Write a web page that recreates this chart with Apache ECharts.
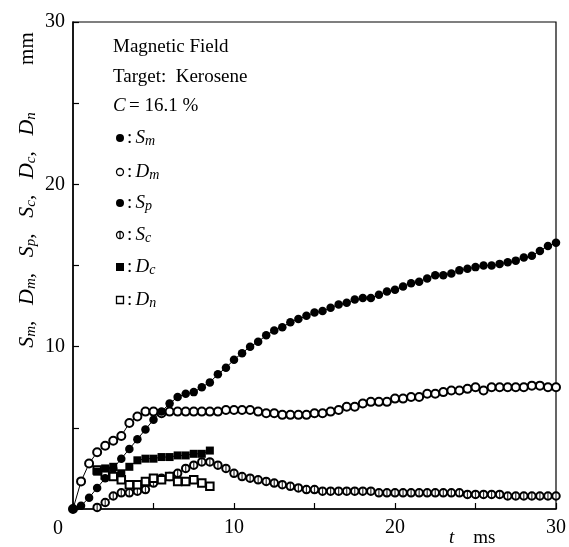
<!DOCTYPE html>
<html>
<head>
<meta charset="utf-8">
<script src="https://cdn.jsdelivr.net/npm/echarts@6/dist/echarts.min.js"></script>
<style>
  html, body { margin: 0; padding: 0; background: #fff; }
  #myChart { width: 569px; height: 547px; }
</style>
</head>
<body>
<div id="myChart"></div>
<script>
// time axis, ms
const tMain = [0, 0.5, 1, 1.5, 2, 2.5, 3, 3.5, 4, 4.5, 5, 5.5, 6, 6.5, 7, 7.5, 8, 8.5, 9, 9.5,
  10, 10.5, 11, 11.5, 12, 12.5, 13, 13.5, 14, 14.5, 15, 15.5, 16, 16.5, 17, 17.5, 18, 18.5, 19, 19.5,
  20, 20.5, 21, 21.5, 22, 22.5, 23, 23.5, 24, 24.5, 25, 25.5, 26, 26.5, 27, 27.5, 28, 28.5, 29, 29.5, 30]
const tSc = [1.5, 2, 2.5, 3, 3.5, 4, 4.5, 5, 5.5, 6, 6.5, 7, 7.5, 8, 8.5, 9, 9.5,
  10, 10.5, 11, 11.5, 12, 12.5, 13, 13.5, 14, 14.5, 15, 15.5, 16, 16.5, 17, 17.5, 18, 18.5, 19, 19.5,
  20, 20.5, 21, 21.5, 22, 22.5, 23, 23.5, 24, 24.5, 25, 25.5, 26, 26.5, 27, 27.5, 28, 28.5, 29, 29.5, 30]
const tShort = [1.5, 2, 2.5, 3, 3.5, 4, 4.5, 5, 5.5, 6, 6.5, 7, 7.5, 8, 8.5]

// mm
const Sm = [0, 0.2, 0.7, 1.3, 1.9, 2.5, 3.1, 3.7, 4.3, 4.9, 5.5, 6.0, 6.5, 6.9, 7.1, 7.2, 7.5, 7.8, 8.3, 8.7,
  9.2, 9.6, 10.0, 10.3, 10.7, 11.0, 11.2, 11.5, 11.7, 11.9, 12.1, 12.2, 12.4, 12.6, 12.7, 12.9, 13.0, 13.0, 13.2, 13.4,
  13.5, 13.7, 13.9, 14.0, 14.2, 14.4, 14.4, 14.5, 14.7, 14.8, 14.9, 15.0, 15.0, 15.1, 15.2, 15.3, 15.5, 15.6, 15.9, 16.2, 16.4]
const Dm = [0, 1.7, 2.8, 3.5, 3.9, 4.2, 4.5, 5.3, 5.7, 6.0, 6.0, 5.9, 6.0, 6.0, 6.0, 6.0, 6.0, 6.0, 6.0, 6.1,
  6.1, 6.1, 6.1, 6.0, 5.9, 5.9, 5.8, 5.8, 5.8, 5.8, 5.9, 5.9, 6.0, 6.1, 6.3, 6.3, 6.5, 6.6, 6.6, 6.6,
  6.8, 6.8, 6.9, 6.9, 7.1, 7.1, 7.2, 7.3, 7.3, 7.4, 7.5, 7.3, 7.5, 7.5, 7.5, 7.5, 7.5, 7.6, 7.6, 7.5, 7.5]
const Sc = [0.1, 0.4, 0.8, 1.0, 1.0, 1.1, 1.2, 1.6, 1.9, 2.0, 2.2, 2.5, 2.7, 2.9, 2.9, 2.7, 2.5,
  2.2, 2.0, 1.9, 1.8, 1.7, 1.6, 1.5, 1.4, 1.3, 1.2, 1.2, 1.1, 1.1, 1.1, 1.1, 1.1, 1.1, 1.1, 1.0, 1.0,
  1.0, 1.0, 1.0, 1.0, 1.0, 1.0, 1.0, 1.0, 1.0, 0.9, 0.9, 0.9, 0.9, 0.9, 0.8, 0.8, 0.8, 0.8, 0.8, 0.8, 0.8]
const Dc = [2.3, 2.5, 2.6, 2.2, 2.6, 3.0, 3.1, 3.1, 3.2, 3.2, 3.3, 3.3, 3.4, 3.4, 3.6]
const Dn = [2.4, 2.1, 2.0, 1.8, 1.5, 1.5, 1.7, 1.9, 1.8, 2.0, 1.7, 1.7, 1.8, 1.6, 1.4]

const xTicks = [10, 20, 30]
const yTicks = [10, 20, 30]

const serif = 'Liberation Serif'
const zip = (ts, vs) => ts.map((t, i) => [t, vs[i]])

const rich = {
  r: { fontFamily: serif, fontSize: 19, color: '#000' },
  i: { fontFamily: serif, fontStyle: 'italic', fontSize: 19, color: '#000' },
  s: { fontFamily: serif, fontStyle: 'italic', fontSize: 14, color: '#000', padding: [7, 0, 0, 0] }
}
const richY = {
  r: { fontFamily: serif, fontSize: 21, color: '#000' },
  i: { fontFamily: serif, fontStyle: 'italic', fontSize: 22, color: '#000' },
  s: { fontFamily: serif, fontStyle: 'italic', fontSize: 15, color: '#000', padding: [8, 0, 0, 0] }
}

const myChart = echarts.init(document.getElementById('myChart'))

const axisCommon = {
  type: 'value',
  min: 0,
  max: 30,
  interval: 5,
  axisLine: { lineStyle: { color: '#000', width: 1.5 } },
  axisTick: { inside: true, length: 6, lineStyle: { color: '#000', width: 1.2 } },
  splitLine: { show: false },
  axisLabel: {
    color: '#000',
    fontFamily: serif,
    fontSize: 20,
    margin: 9,
    formatter: v => (xTicks.indexOf(v) >= 0 ? String(v) : '')
  }
}

const lineStyle = { color: '#000', width: 1 }

// legend block drawn as text
const legendRows = [
  { y: 138, sym: 'fill', label: 'm', L: 'S' },
  { y: 172, sym: 'open', label: 'm', L: 'D' },
  { y: 203, sym: 'fill', label: 'p', L: 'S' },
  { y: 235, sym: 'bar', label: 'c', L: 'S' },
  { y: 267, sym: 'sq', label: 'c', L: 'D' },
  { y: 300, sym: 'osq', label: 'n', L: 'D' }
]
const graphics = [
  { type: 'text', x: 113, y: 47, style: { text: 'Magnetic Field', font: '19px ' + serif, fill: '#000', verticalAlign: 'middle' } },
  { type: 'text', x: 113, y: 77, style: { text: 'Target:  Kerosene', font: '19px ' + serif, fill: '#000', verticalAlign: 'middle' } },
  { type: 'text', x: 113, y: 106, style: { text: '{i|C} {r|= 16.1 %}', rich: rich, verticalAlign: 'middle' } },
  { type: 'text', x: 58, y: 529, style: { text: '0', font: '20px ' + serif, fill: '#000', align: 'center', verticalAlign: 'middle' } },
  { type: 'text', x: 449, y: 538, style: { text: '{i|t}{r|    ms}', rich: rich, verticalAlign: 'middle' } },
  {
    type: 'text', x: 27, y: 190, rotation: Math.PI / 2,
    style: {
      text: '{i|S}{s|m}{r|,   }{i|D}{s|m}{r|,   }{i|S}{s|p}{r|,   }{i|S}{s|c}{r|,   }{i|D}{s|c}{r|,   }{i|D}{s|n}{r|         mm}',
      rich: richY, align: 'center', verticalAlign: 'middle'
    }
  }
]
legendRows.forEach(row => {
  const cx = 120
  if (row.sym === 'fill') {
    graphics.push({ type: 'circle', shape: { cx: cx, cy: row.y, r: 4 }, style: { fill: '#000' } })
  } else if (row.sym === 'open') {
    graphics.push({ type: 'circle', shape: { cx: cx, cy: row.y, r: 3.5 }, style: { fill: '#fff', stroke: '#000', lineWidth: 1.3 } })
  } else if (row.sym === 'bar') {
    graphics.push({ type: 'circle', shape: { cx: cx, cy: row.y, r: 3.5 }, style: { fill: '#fff', stroke: '#000', lineWidth: 1.3 } })
    graphics.push({ type: 'line', shape: { x1: cx, y1: row.y - 3.5, x2: cx, y2: row.y + 3.5 }, style: { stroke: '#000', lineWidth: 1.2 } })
  } else if (row.sym === 'sq') {
    graphics.push({ type: 'rect', shape: { x: cx - 4, y: row.y - 4, width: 8, height: 8 }, style: { fill: '#000' } })
  } else {
    graphics.push({ type: 'rect', shape: { x: cx - 3.5, y: row.y - 3.5, width: 7, height: 7 }, style: { fill: '#fff', stroke: '#000', lineWidth: 1.3 } })
  }
  graphics.push({
    type: 'text', x: 127, y: row.y,
    style: { text: '{r|:} {i|' + row.L + '}{s|' + row.label + '}', rich: rich, verticalAlign: 'middle' }
  })
})

myChart.setOption({
  animation: false,
  backgroundColor: '#fff',
  grid: { left: 73, right: 12, top: 22, bottom: 38, show: true, borderColor: '#000', borderWidth: 1.2 },
  xAxis: Object.assign({}, axisCommon),
  yAxis: Object.assign({}, axisCommon, {
    axisLabel: Object.assign({}, axisCommon.axisLabel, {
      margin: 8,
      formatter: v => (yTicks.indexOf(v) >= 0 ? String(v) : '')
    })
  }),
  graphic: graphics,
  series: [
    {
      name: 'Sc', type: 'line', data: zip(tSc, Sc),
      symbol: 'emptyCircle', symbolSize: 7.5, showAllSymbol: true,
      itemStyle: { color: '#000', borderWidth: 1.3 }, lineStyle: lineStyle
    },
    {
      name: 'Sc bar', type: 'scatter', data: zip(tSc, Sc),
      symbol: 'rect', symbolSize: [1.2, 7], itemStyle: { color: '#000' }, z: 3
    },
    {
      name: 'Dm', type: 'line', data: zip(tMain, Dm),
      symbol: 'emptyCircle', symbolSize: 8, showAllSymbol: true,
      itemStyle: { color: '#000', borderWidth: 1.3 }, lineStyle: lineStyle
    },
    {
      name: 'Dn', type: 'line', data: zip(tShort, Dn),
      symbol: 'emptyRect', symbolSize: 7.5, showAllSymbol: true,
      itemStyle: { color: '#000', borderWidth: 1.3 }, lineStyle: lineStyle
    },
    {
      name: 'Dc', type: 'line', data: zip(tShort, Dc),
      symbol: 'rect', symbolSize: 8, showAllSymbol: true,
      itemStyle: { color: '#000' }, lineStyle: lineStyle
    },
    {
      name: 'Sm', type: 'line', data: zip(tMain, Sm),
      symbol: 'circle', symbolSize: 8.5, showAllSymbol: true,
      itemStyle: { color: '#000' }, lineStyle: lineStyle
    }
  ]
})
</script>
</body>
</html>
